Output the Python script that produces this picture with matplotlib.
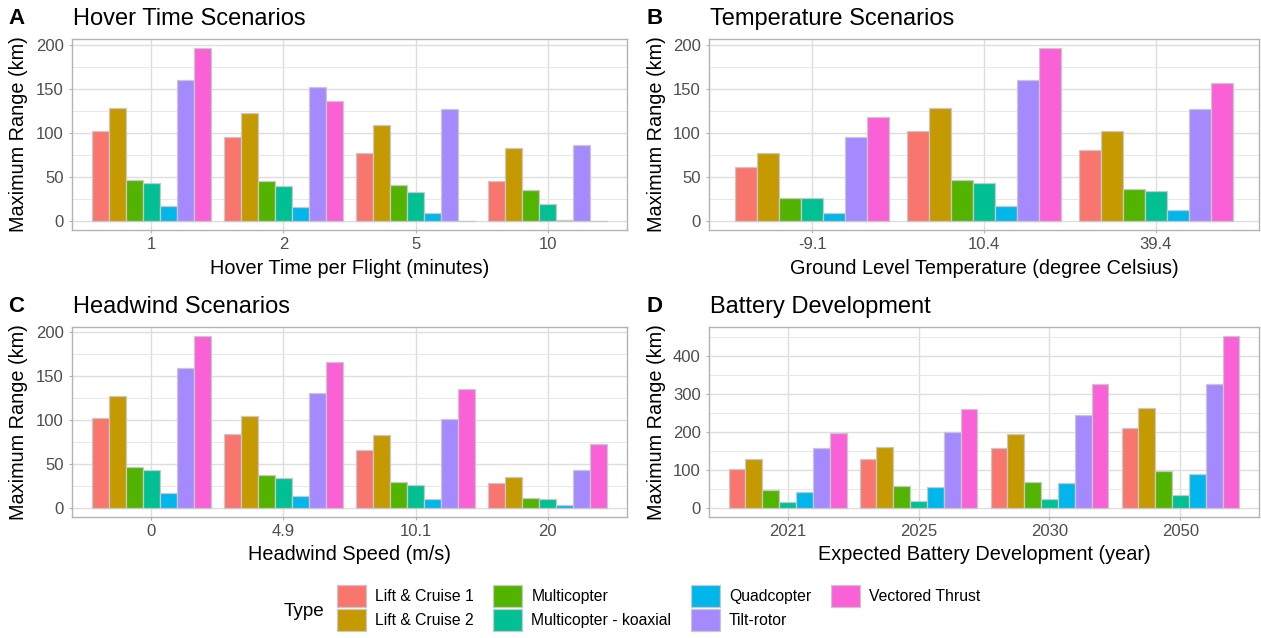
import matplotlib.pyplot as plt
import numpy as np
from matplotlib.ticker import MultipleLocator

plt.rcParams['font.family'] = ['Liberation Sans', 'DejaVu Sans']

types = ["Lift & Cruise 1", "Lift & Cruise 2", "Multicopter", "Multicopter - koaxial",
         "Quadcopter", "Tilt-rotor", "Vectored Thrust"]
colors = ["#F8766D", "#C49A00", "#53B400", "#00C094", "#00B6EB", "#A58AFF", "#FB61D7"]

# one row per x category, one value per type (same order as `types`)
hover_labels = ["1", "2", "5", "10"]
hover_values = [[103, 129, 47, 43, 17, 160, 197],
                [96, 123, 46, 40, 16, 152, 136],
                [78, 109, 41, 33, 10, 127, 0],
                [46, 83, 36, 20, 2, 87, 0]]

temp_labels = ["-9.1", "10.4", "39.4"]
temp_values = [[62, 77, 27, 26, 10, 96, 118],
               [103, 129, 47, 43, 17, 160, 197],
               [81, 103, 37, 34, 13, 127, 157]]

wind_labels = ["0", "4.9", "10.1", "20"]
wind_values = [[102, 128, 47, 44, 17, 159, 196],
               [84, 105, 38, 35, 14, 131, 166],
               [66, 83, 30, 27, 11, 101, 135],
               [29, 36, 12, 11, 4, 44, 73]]

battery_labels = ["2021", "2025", "2030", "2050"]
battery_values = [[103, 129, 47, 17, 44, 159, 199],
                  [130, 162, 60, 19, 57, 201, 260],
                  [159, 195, 70, 25, 67, 245, 326],
                  [211, 264, 97, 36, 90, 327, 454]]

W, H = 1261, 638
fig = plt.figure(figsize=(W / 100, H / 100), dpi=100)


def ftext(x, y, s, **kw):
    # place text at pixel coords (origin top-left)
    return fig.text(x / W, 1 - y / H, s, **kw)


def draw_panel(box, labels, values, step, letter, title, xlabel, letter_x, ylabel_x):
    left, top, right, bottom = box
    ax = fig.add_axes([left / W, 1 - bottom / H, (right - left) / W, (bottom - top) / H])
    vals = np.array(values, dtype=float)
    n = len(labels)
    x = np.arange(1, n + 1)
    w = 0.9 / len(types)
    bars = []
    for i, t in enumerate(types):
        b = ax.bar(x - 0.45 + w * (i + 0.5), vals[:, i], width=w, color=colors[i],
                   edgecolor="#C8C8C8", linewidth=0.9, label=t, zorder=3)
        bars.append(b)
    vmax = vals.max()
    ax.set_xlim(0.4, n + 0.6)
    ax.set_ylim(-0.05 * vmax, 1.05 * vmax)
    ax.set_xticks(x)
    ax.set_xticklabels(labels)
    ax.yaxis.set_major_locator(MultipleLocator(step))
    ax.yaxis.set_minor_locator(MultipleLocator(step / 2))
    ax.set_axisbelow(True)
    ax.grid(which='major', color='#DEDEDE', linewidth=1.0)
    ax.grid(which='minor', axis='y', color='#E8E8E8', linewidth=0.7)
    ax.tick_params(which='minor', length=0)
    ax.tick_params(which='major', length=2.5, width=0.8, color='#B3B3B3',
                   labelcolor='#4D4D4D', labelsize=12)
    ax.tick_params(axis='x', pad=2.5)
    ax.tick_params(axis='y', pad=3.5)
    for s in ax.spines.values():
        s.set_color('#B3B3B3')
        s.set_linewidth(1.0)

    ty = top - 20
    ftext(letter_x, ty, letter, fontsize=16, fontweight='bold', va='center', ha='left')
    ftext(left + 1, ty, title, fontsize=17, va='center', ha='left')
    ftext((left + right) / 2, bottom + 38, xlabel, fontsize=14.3, va='center', ha='center')
    ftext(ylabel_x, (top + bottom) / 2, "Maximum Range (km)", fontsize=14.3,
          va='center', ha='center', rotation=90)
    return bars


bars = draw_panel((72, 39, 627, 230), hover_labels, hover_values, 50, "A",
                  "Hover Time Scenarios", "Hover Time per Flight (minutes)", 8, 19)
draw_panel((709, 39, 1259, 230), temp_labels, temp_values, 50, "B",
           "Temperature Scenarios", "Ground Level Temperature (degree Celsius)", 646, 656)
draw_panel((72, 327, 627, 517), wind_labels, wind_values, 50, "C",
           "Headwind Scenarios", "Headwind Speed (m/s)", 8, 19)
draw_panel((709, 327, 1259, 517), battery_labels, battery_values, 100, "D",
           "Battery Development", "Expected Battery Development (year)", 646, 656)

ftext(304, 612, "Type", fontsize=13.6, va='center', ha='center')
fig.legend(bars, types, ncol=4, loc='upper left', bbox_to_anchor=(337 / W, 1 - 585 / H),
           frameon=False, prop={'size': 11.3},
           handlelength=1.85, handleheight=1.75, handletextpad=0.57,
           labelspacing=0.15, columnspacing=1.25, borderpad=0, borderaxespad=0)

fig.savefig("out.png", dpi=100)
